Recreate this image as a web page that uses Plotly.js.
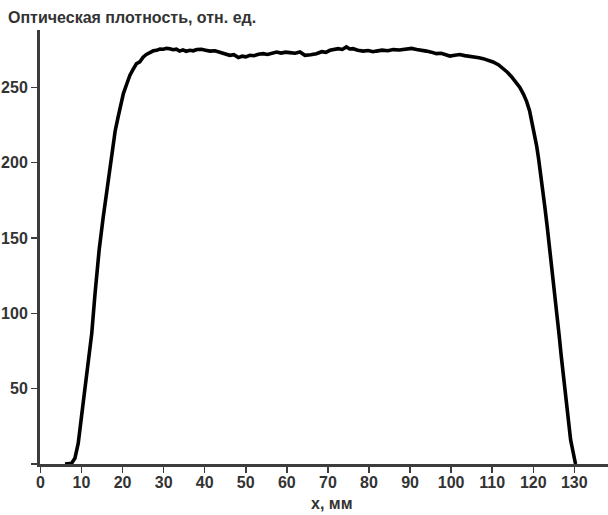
<!DOCTYPE html>
<html>
<head>
<meta charset="utf-8">
<script src="https://cdn.plot.ly/plotly-3.0.1.min.js"></script>
<style>html,body{margin:0;padding:0;background:#fff;}#chart{width:608px;height:515px;}</style>
</head>
<body>
<div id="chart"></div>
<script>
const xMM = [6, 7, 7.6, 8.4, 9.2, 10.0, 10.8, 11.6, 12.5, 13.3, 14.3, 15.3, 16.4, 17.4, 18.2, 18.9, 19.6, 20.2, 21.0, 21.8, 22.6, 23.4, 24.2, 25.0, 25.8, 26.7, 27.5, 28.3, 29.1, 29.9, 30.7, 31.5, 32.3, 33.1, 33.9, 34.7, 35.5, 36.4, 37.2, 38.1, 39.2, 40.2, 41.3, 42.5, 43.7, 44.9, 46.1, 47.1, 48.2, 49.1, 50.0, 51.0, 52.0, 53.1, 54.2, 55.3, 56.4, 57.5, 58.6, 59.7, 60.7, 62.0, 63.2, 64.4, 65.8, 67.2, 68.5, 69.5, 70.5, 71.5, 72.5, 73.5, 74.5, 75.3, 76.1, 77.3, 78.6, 79.8, 81.0, 81.8, 83.2, 84.6, 85.9, 87.4, 89.0, 90.4, 91.6, 92.8, 94.0, 95.2, 96.4, 97.6, 98.6, 99.7, 100.9, 102.1, 103.3, 104.6, 105.8, 106.8, 107.8, 109.0, 110.2, 111.5, 112.7, 113.7, 114.7, 115.7, 116.7, 117.6, 118.4, 119.1, 119.6, 120.2, 120.8, 121.3, 121.8, 122.3, 122.8, 123.4, 124.0, 124.6, 125.2, 125.8, 126.3, 126.8, 127.3, 127.9, 128.5, 129.1, 129.6, 130.1, 130.3];
const density = [0, 0, 0.5, 3.8, 13.7, 31.4, 49, 64.5, 86.7, 113, 142, 164, 187, 208, 221, 230, 240, 245.8, 252, 258, 262, 265.7, 266.8, 270, 271.8, 273.4, 274.2, 274.5, 275.4, 275.2, 275.8, 275.6, 274.9, 275.3, 274, 274.8, 273.9, 274.5, 274.2, 275.1, 275.2, 274.6, 274, 274.2, 273, 272.4, 271.2, 271.6, 269.7, 270.6, 270.2, 271.2, 270.9, 271.9, 272.3, 271.8, 272.9, 273.4, 272.7, 273.3, 273, 272.6, 273.4, 271.2, 271.6, 272.3, 273.6, 273.2, 274.5, 275.3, 275.6, 275.1, 276.8, 275.4, 275.6, 274.6, 274, 274.4, 273.6, 274, 274.6, 274.2, 275, 274.7, 275.3, 275.8, 275, 274.7, 274, 273.3, 272.3, 272.6, 271.4, 270.7, 271.3, 271.7, 271, 270.7, 270.2, 269.6, 269, 268.2, 266.8, 265, 262.4, 260, 257, 253.8, 250, 245.5, 240.5, 234.5, 228.5, 220.5, 211.5, 202.5, 193, 182, 171, 157.5, 143.5, 129, 114, 99, 85.5, 72, 59, 44, 28, 16, 9.3, 2.7, 0];
const xTicks = [0, 10, 20, 30, 40, 50, 60, 70, 80, 90, 100, 110, 120, 130];
const yTicks = [0, 50, 100, 150, 200, 250];
const yTickText = ['', '50', '100', '150', '200', '250'];
const titleText = 'Оптическая плотность, отн. ед.';
const xTitleText = 'x, мм';

const fontFam = '"Liberation Sans", Arial, sans-serif';
const axisCol = '#3c3c3c';
const textCol = '#333333';

const trace = {
  x: xMM, y: density, type: 'scatter', mode: 'lines',
  line: {color: '#000000', width: 3.6, shape: 'linear'},
  hoverinfo: 'skip'
};

const layout = {
  width: 608, height: 515, autosize: false,
  margin: {l: 40, r: 0, t: 30, b: 51, pad: 0},
  paper_bgcolor: '#ffffff', plot_bgcolor: '#ffffff',
  showlegend: false,
  title: {text: titleText, x: 8/608, xanchor: 'left', xref: 'container', y: 1 - 17/515, yanchor: 'middle', yref: 'container',
          font: {family: fontFam, size: 16, color: textCol, weight: 'bold'}},
  xaxis: {
    range: [-0.1, 138.2], showgrid: false, zeroline: false,
    showline: true, linecolor: axisCol, linewidth: 3,
    ticks: 'outside', ticklen: 6, tickwidth: 1.5, tickcolor: axisCol,
    ticklabelstandoff: -4,
    tickmode: 'array', tickvals: xTicks, ticktext: xTicks.map(String),
    tickfont: {family: fontFam, size: 16, color: textCol, weight: 'bold'},
    fixedrange: true
  },
  yaxis: {
    range: [0, 288], showgrid: false, zeroline: false,
    showline: true, linecolor: axisCol, linewidth: 3,
    ticks: 'outside', ticklen: 6, tickwidth: 1.5, tickcolor: axisCol,
    tickmode: 'array', tickvals: yTicks, ticktext: yTickText,
    tickfont: {family: fontFam, size: 16, color: textCol, weight: 'bold'},
    fixedrange: true
  },
  annotations: [{
    text: xTitleText, xref: 'paper', yref: 'paper',
    x: (331 - 40) / 568, y: (464 - 503) / 434, xanchor: 'center', yanchor: 'middle',
    showarrow: false, font: {family: fontFam, size: 16, color: textCol, weight: 'bold'}
  }]
};

Plotly.newPlot('chart', [trace], layout, {staticPlot: true, displayModeBar: false});
</script>
</body>
</html>
